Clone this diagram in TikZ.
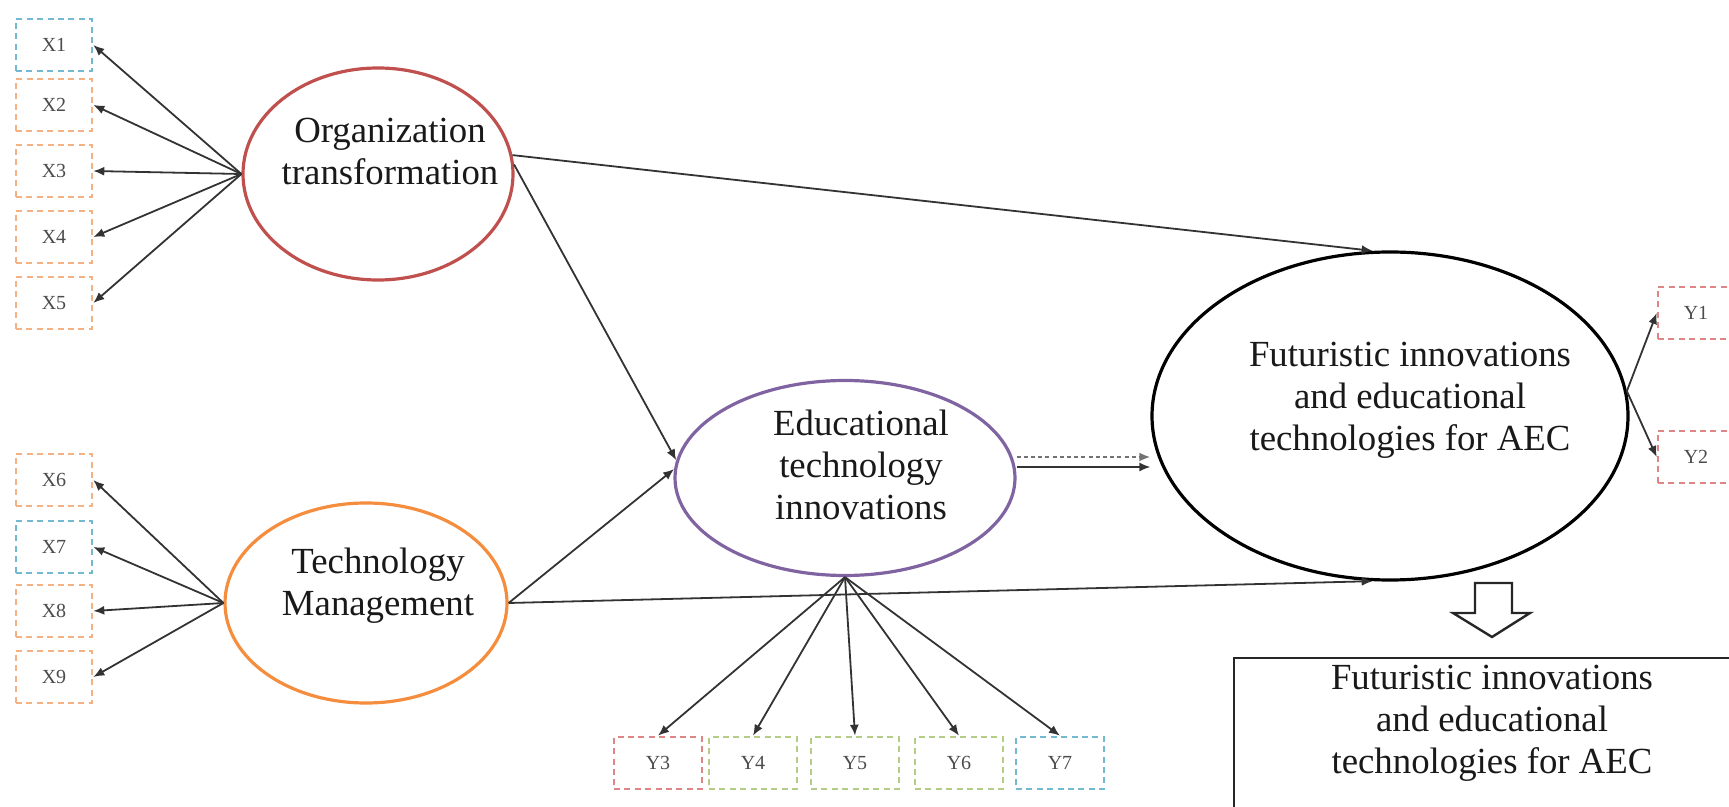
\documentclass[tikz,border=0pt]{standalone}
\usepackage{fontspec}
\setmainfont{Liberation Serif}
\usetikzlibrary{shapes.geometric,positioning,arrows.meta}

\definecolor{boxblue}{HTML}{72B9D1}
\definecolor{boxorange}{HTML}{F4B183}
\definecolor{boxred}{HTML}{DE8686}
\definecolor{boxgreen}{HTML}{B3CC86}
\definecolor{orgred}{HTML}{C0504D}
\definecolor{techorange}{HTML}{F58D3E}
\definecolor{edupurple}{HTML}{8064A2}

\begin{document}
\begin{tikzpicture}[x=0.5pt,y=-0.5pt,
  every node/.style = {align=center},
  latent/.style = {ellipse, draw=#1, line width=1.6pt, inner sep=0pt},
  item/.style = {draw=#1, dash pattern=on 3pt off 2.2pt, line width=1.3pt,
    minimum width=38pt, minimum height=26pt, inner sep=0pt,
    font=\fontsize{10}{12}\selectfont, text=black!70},
  bigtext/.style = {font=\fontsize{18.4}{21}\selectfont, text=black!90},
  link/.style = {draw, black!80, line width=0.9pt, -{Latex[length=5.5pt,width=4.5pt]}}]
  \useasboundingbox (0,0) rectangle (1729,807);

  % latent variables
  \node[latent=orgred, minimum width=135pt, minimum height=106pt] (org) at (378,174) {};
  \node[bigtext] (orgtxt) at (390,152) {Organization\\transformation};
  \node[latent=techorange, minimum width=141pt, minimum height=100pt] (tech) at (366,603) {};
  \node[bigtext] (techtxt) at (378,586) {Technology\\Management};
  \node[latent=edupurple, minimum width=170pt, minimum height=97.5pt] (edu) at (845,478) {};
  \node[bigtext] (edutxt) at (861,465) {Educational\\technology\\innovations};
  \node[latent=black, minimum width=238pt, minimum height=164pt] (fut) at (1390,416) {};
  \node[bigtext] (futtxt) at (1410,400) {Futuristic innovations\\and educational\\technologies for AEC};

  % indicators
  \foreach \i/\yy/\c in {1/45/boxblue, 2/105/boxorange, 3/171/boxorange,
      4/237/boxorange, 5/303/boxorange, 6/480/boxorange, 7/547/boxblue,
      8/611/boxorange, 9/677/boxorange}
    \node[item=\c] (x\i) at (54,\yy) {X\i};
  \foreach \i/\xx/\c in {3/658/boxred, 4/753/boxgreen, 5/855/boxgreen,
      6/959/boxgreen, 7/1060/boxblue}
    \node[item=\c, minimum width=44pt] (y\i) at (\xx,763) {Y\i};
  \node[item=boxred] (y1) at (1696,313) {Y1};
  \node[item=boxred] (y2) at (1696,457) {Y2};

  \foreach \i in {1,...,5} \path[link] (org.west) -- (x\i.east);
  \foreach \i in {6,...,9} \path[link] (tech.west) -- (x\i.east);
  \foreach \i in {3,...,7} \path[link] (edu.south) -- (y\i.north);
  \path[link] (fut.6) -- (y1.west);
  \path[link] (fut.6) -- (y2.west);

  % structural paths
  \path[link] (org.8) -- (fut.96);
  \path[link] (org.4) -- (edu.174);
  \path[link] (tech.east) -- (edu.177);
  \path[link] (tech.east) -- (fut.264);
  \path[link, black!55, line width=1.1pt, dash pattern=on 2pt off 1.6pt] ([yshift=10.5pt]edu.east) -- ([yshift=10.5pt]edu.east -| fut.west);
  \path[link] ([yshift=5.5pt]edu.east) -- ([yshift=5.5pt]edu.east -| fut.west);

  % result
  \draw[line width=1.2pt, black!85] (1475,583) -- (1512,583) -- (1512,613) -- (1530,613)
    -- (1492,637) -- (1453,613) -- (1475,613) -- cycle;
  \node[draw, line width=1.2pt, black!85, minimum width=265pt, minimum height=90pt,
    anchor=north west] (resbox) at (1233,657) {};
  \node[bigtext] (restxt) at (1492,723) {Futuristic innovations\\and educational\\technologies for AEC};
\end{tikzpicture}
\end{document}
